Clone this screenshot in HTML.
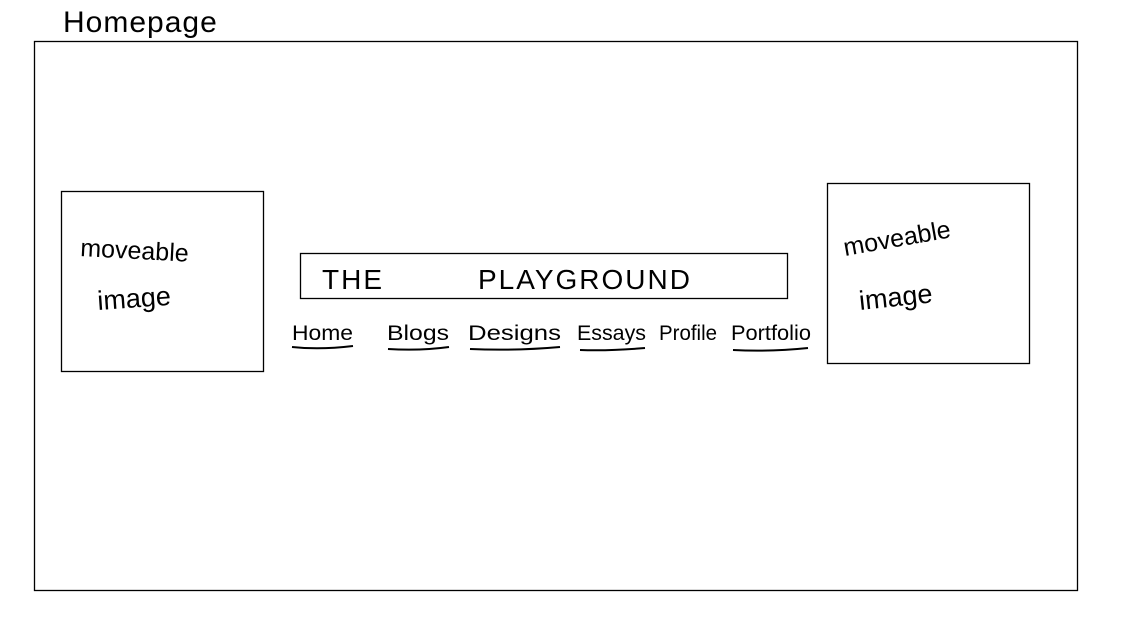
<!DOCTYPE html>
<html><head><meta charset="utf-8"><style>
html,body{margin:0;padding:0;background:#fff;width:1126px;height:627px;overflow:hidden}
svg{display:block}
text{font-family:"Liberation Sans",sans-serif;fill:#000}
</style></head><body>
<svg width="1126" height="627" viewBox="0 0 1126 627" xmlns="http://www.w3.org/2000/svg">
<text x="63" y="32" font-size="30" font-weight="300" letter-spacing="1">Homepage</text>
<rect x="34.5" y="41.5" width="1043" height="549" fill="none" stroke="#000" stroke-width="1.3"/>
<rect x="61.5" y="191.5" width="202" height="180" fill="none" stroke="#000" stroke-width="1.3"/>
<rect x="827.5" y="183.5" width="202" height="180" fill="none" stroke="#000" stroke-width="1.3"/>
<rect x="300.5" y="253.5" width="487" height="45" fill="none" stroke="#000" stroke-width="1.3"/>
<text x="80" y="256" font-size="25" transform="rotate(3 80 256)">moveable</text>
<text x="98" y="310" font-size="27" transform="rotate(-4 98 310)">image</text>
<text x="845" y="256" font-size="25" transform="rotate(-10 845 256)">moveable</text>
<text x="860" y="310" font-size="27" transform="rotate(-6 860 310)">image</text>
<text x="322" y="289" font-size="28" font-weight="300" letter-spacing="2">THE</text>
<text x="478" y="289" font-size="28" font-weight="300" letter-spacing="2">PLAYGROUND</text>
<g font-size="21">
<text x="292" y="340" textLength="61" lengthAdjust="spacingAndGlyphs">Home</text>
<text x="387" y="340" textLength="62" lengthAdjust="spacingAndGlyphs">Blogs</text>
<text x="468" y="340" textLength="93" lengthAdjust="spacingAndGlyphs">Designs</text>
<text x="577" y="340" textLength="69" lengthAdjust="spacingAndGlyphs">Essays</text>
<text x="659" y="340" textLength="58" lengthAdjust="spacingAndGlyphs">Profile</text>
<text x="731" y="340" textLength="80" lengthAdjust="spacingAndGlyphs">Portfolio</text>
</g>
<g stroke="#000" stroke-width="2" fill="none">
<path d="M292 347 Q320 350 353 346"/>
<path d="M388 349 Q420 351 449 347"/>
<path d="M470 349 Q515 351 560 347"/>
<path d="M580 350 Q610 351 645 348"/>
<path d="M733 350 Q770 352 808 348"/>
</g>
</svg>
</body></html>
